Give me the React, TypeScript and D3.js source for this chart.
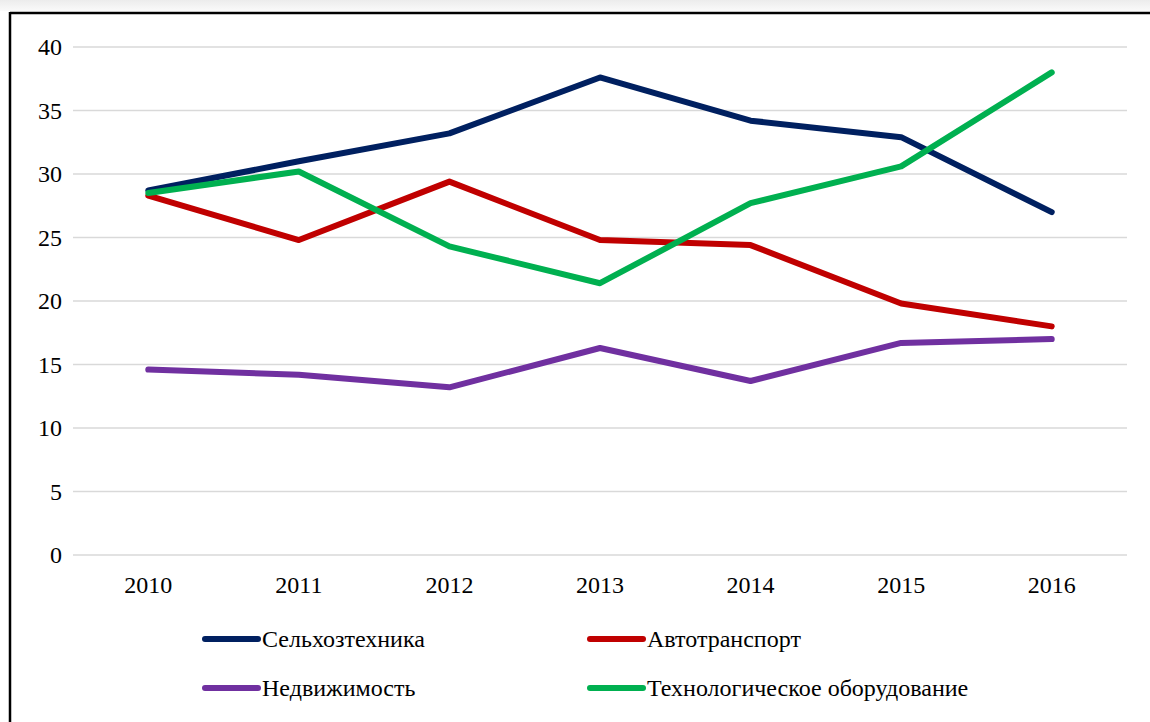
import React from "react";
import * as d3 from "d3";

const years = ["2010", "2011", "2012", "2013", "2014", "2015", "2016"];
const selkhoz = [28.7, 31.0, 33.2, 37.6, 34.2, 32.9, 27.0];
const avto = [28.3, 24.8, 29.4, 24.8, 24.4, 19.8, 18.0];
const nedv = [14.6, 14.2, 13.2, 16.3, 13.7, 16.7, 17.0];
const tekh = [28.5, 30.2, 24.3, 21.4, 27.7, 30.6, 38.0];
const yTicks = [0, 5, 10, 15, 20, 25, 30, 35, 40];

const seriesNames = ["Сельхозтехника", "Автотранспорт", "Недвижимость", "Технологическое оборудование"];
const seriesColors = ["#002060", "#C00000", "#7030A0", "#00B050"];
const seriesValues = [selkhoz, avto, nedv, tekh];

const W = 1150;
const H = 722;
const font = "'Liberation Serif', 'Times New Roman', serif";

export default function App() {
  const x = d3.scaleBand<string>().domain(years).range([73, 1127]);
  const y = d3.scaleLinear().domain([0, 40]).range([555, 47]);
  const line = d3
    .line<number>()
    .x((_, i) => (x(years[i]) as number) + x.bandwidth() / 2)
    .y((d) => y(d));

  const legendPos = [
    { x: 205, y: 639 },
    { x: 590, y: 639 },
    { x: 205, y: 688 },
    { x: 590, y: 688 },
  ];

  return (
    <svg
      width={W}
      height={H}
      style={{ position: "absolute", left: 0, top: 0, background: "#fff" }}
      fontFamily={font}
    >
      <defs>
        <linearGradient id="topfade" x1="0" y1="0" x2="0" y2="1">
          <stop offset="0" stopColor="#ececec" />
          <stop offset="1" stopColor="#fafafa" />
        </linearGradient>
      </defs>
      <rect x={0} y={0} width={W} height={11} fill="url(#topfade)" />
      <line x1={10} y1={13} x2={W} y2={13} stroke="#000" strokeWidth={2.5} />
      <line x1={10} y1={12} x2={10} y2={H} stroke="#000" strokeWidth={2.5} />

      {yTicks.map((t) => (
        <g key={t}>
          <line x1={73} x2={1127} y1={y(t)} y2={y(t)} stroke="#d9d9d9" strokeWidth={1.5} />
          <text x={62} y={y(t)} dy="0.35em" textAnchor="end" fontSize={24} fill="#000">
            {t}
          </text>
        </g>
      ))}

      {years.map((yr) => (
        <text
          key={yr}
          x={(x(yr) as number) + x.bandwidth() / 2}
          y={585}
          dy="0.35em"
          textAnchor="middle"
          fontSize={24}
          fill="#000"
        >
          {yr}
        </text>
      ))}

      {seriesValues.map((vals, i) => (
        <path
          key={i}
          d={line(vals) || ""}
          fill="none"
          stroke={seriesColors[i]}
          strokeWidth={6}
          strokeLinecap="round"
          strokeLinejoin="round"
        />
      ))}

      {seriesNames.map((name, i) => (
        <g key={name}>
          <line
            x1={legendPos[i].x}
            x2={legendPos[i].x + 53}
            y1={legendPos[i].y}
            y2={legendPos[i].y}
            stroke={seriesColors[i]}
            strokeWidth={6}
            strokeLinecap="round"
          />
          <text x={legendPos[i].x + 57} y={legendPos[i].y} dy="0.35em" fontSize={24} fill="#000">
            {name}
          </text>
        </g>
      ))}
    </svg>
  );
}
